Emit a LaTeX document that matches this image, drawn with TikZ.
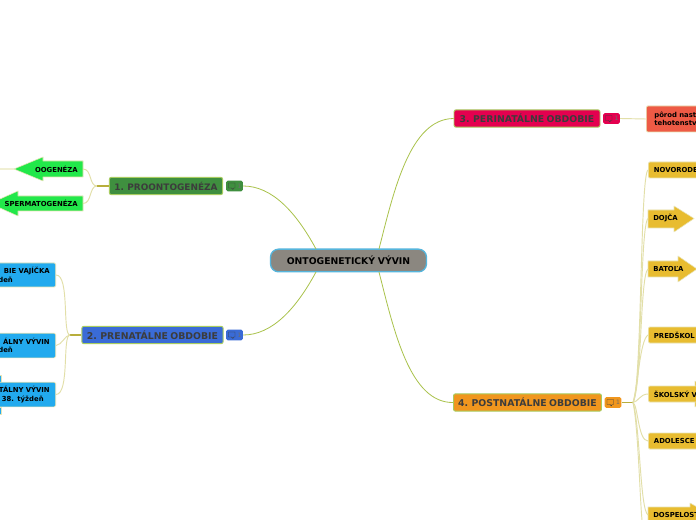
\documentclass[tikz,border=0pt]{standalone}
\usepackage{fontspec}
\setmainfont{DejaVu Sans}
\definecolor{olive}{HTML}{A9C24A}
\definecolor{pale}{HTML}{E2DFA8}
\definecolor{trunk}{HTML}{B8AE3C}
\definecolor{lvl}{HTML}{A8CC60}
\definecolor{ink}{HTML}{3C3C3C}
\definecolor{gr}{HTML}{3F8F3F}
\definecolor{bl}{HTML}{3A6BD6}
\definecolor{rd}{HTML}{E4004F}
\definecolor{or}{HTML}{F0961E}
\definecolor{lime}{HTML}{22E84A}
\definecolor{sky}{HTML}{22AAEE}
\definecolor{yel}{HTML}{E8BC30}
\definecolor{peach}{HTML}{EE5A45}
\definecolor{rim}{HTML}{E8E4B4}
\newcommand{\leaffont}{\bfseries\fontsize{5.15pt}{6.3pt}\selectfont}
\newcommand{\rootfont}{\bfseries\fontsize{6.95pt}{8pt}\selectfont\spaceskip 0.3em\relax}
\newcommand{\lvlfont}{\bfseries\fontsize{7pt}{8pt}\selectfont\spaceskip 0.25em\relax}
\newcommand{\lvlfontb}{\bfseries\fontsize{6.7pt}{8pt}\selectfont\spaceskip 0.25em\relax}
\tikzset{
  x=0.75pt,y=-0.75pt,
  mainline/.style={draw=olive,line width=0.6pt},
  subline/.style={draw=pale,line width=0.7pt},
  stem/.style={draw=trunk,line width=0.8pt},
  rootbox/.style={draw={rgb,255:red,85;green,181;blue,220},line width=1pt,fill={rgb,255:red,139;green,135;blue,128},rounded corners=6pt,minimum width=117pt,minimum height=17pt,inner sep=0pt,font=\rootfont,text=black},
  lvlbox/.style={draw=lvl,line width=0.7pt,rounded corners=1.5pt,minimum height=13pt,inner sep=0pt,font=\lvlfont,text=ink},
  badge/.style={rounded corners=1.2pt,minimum width=12.6pt,minimum height=8pt,inner sep=0pt},
  leafR/.style={draw=rim,line width=0.5pt,rounded corners=1pt,anchor=east,inner xsep=4.5pt,inner ysep=0pt,text width=90pt,align=right,font=\leaffont,text=black},
  leafL/.style={draw=rim,line width=0.5pt,rounded corners=1pt,anchor=west,inner xsep=4.2pt,inner ysep=0pt,text width=60pt,align=left,font=\leaffont,text=black},
  tag/.style={inner sep=0pt,font=\leaffont,text=black},
  arrowshape/.style={draw=rim,line width=0.4pt,line join=round}
}
\newcommand{\cbadge}[4]{%
  \node[badge,fill=#4] (#1) at (#2,#3) {};
  \draw[ink,line width=0.3pt,line join=round] (#2-6,#3-3) -- (#2+0.5,#3-3) -- (#2+0.5,#3+2) -- (#2-1,#3+2) -- (#2-1.5,#3+3.5) -- (#2-3,#3+2) -- (#2-6,#3+2) -- cycle;
  \node[inner sep=0pt,text=ink!75,font=\fontsize{4.5pt}{5pt}\selectfont] (#1t) at (#2+5,#3) {1};
}
\begin{document}
\begin{tikzpicture}
\useasboundingbox (0,0) rectangle (696,520);
\clip (0,0) rectangle (696,520);
\fill[white] (0,0) rectangle (696,520);

% arrow bodies
\filldraw[arrowshape,fill=lime] (83,161) -- (43,161) -- (43,157) -- (14,169) -- (43,181) -- (43,177) -- (83,177) -- cycle;
\filldraw[arrowshape,fill=lime] (83,196) -- (18,196) -- (18,191) -- (-10,203.5) -- (18,216) -- (18,211) -- (83,211) -- cycle;
\filldraw[arrowshape,fill=sky] (-20,382) -- (0.8,382) -- (0.8,375) -- (-20,375) -- cycle;
\filldraw[arrowshape,fill=sky] (-20,407) -- (0.8,407) -- (0.8,414) -- (-20,414) -- cycle;
\filldraw[arrowshape,fill=yel] (648,210) -- (674,210) -- (674,206) -- (694,218.5) -- (674,232) -- (674,228) -- (648,228) -- cycle;
\filldraw[arrowshape,fill=yel] (648,261) -- (678,261) -- (678,256) -- (697,269) -- (678,282) -- (678,277) -- (648,277) -- cycle;
\filldraw[arrowshape,fill=yel] (695,381) -- (710,394) -- (695,407) -- cycle;
\filldraw[arrowshape,fill=yel] (648,507) -- (690,507) -- (690,503) -- (720,520) -- (720,540) -- (648,540) -- cycle;

% nodes
\node[rootbox] (root) at (348.5,260.5) {ONTOGENETICKÝ VÝVIN};

\node[lvlbox,fill=gr,minimum width=85pt,font=\lvlfontb] (p1) at (166,186) {1. PROONTOGENÉZA};
\node[lvlbox,fill=bl,minimum width=106pt] (p2) at (152.5,335) {2. PRENATÁLNE OBDOBIE};
\node[lvlbox,fill=rd,minimum width=109.5pt] (p3) at (527,118.5) {3. PERINATÁLNE OBDOBIE};
\node[lvlbox,fill=or,minimum width=111pt] (p4) at (527.5,402.5) {4. POSTNATÁLNE OBDOBIE};

\cbadge{b1}{234.5}{186}{gr}
\cbadge{b2}{234.5}{335}{bl}
\cbadge{b3}{611.5}{118.5}{rd}
\cbadge{b4}{613}{402.5}{or}

\node[tag,anchor=east] (oo) at (78,169.5) {OOGENÉZA};
\node[tag,anchor=east] (sp) at (78,203.5) {SPERMATOGENÉZA};

\node[leafR,fill=sky,minimum height=18pt] (v1) at (56,275) {BIE VAJÍČKA\\deň\hspace{27.6pt}\mbox{}};
\node[leafR,fill=sky,minimum height=18.5pt] (v2) at (56,345.5) {ÁLNY VÝVIN\\deň\hspace{27.6pt}\mbox{}};
\node[leafR,fill=sky,minimum height=18.5pt] (v3) at (56,394.5) {TÁLNY VÝVIN\\- 38. týždeň\hspace{4.5pt}\mbox{}};

\node[leafL,fill=peach,minimum height=19.5pt,text=black,inner xsep=6pt] (pp) at (646,119) {pôrod nast\\tehotenstv};
\node[leafL,fill=yel,minimum height=12pt] (c1) at (648,170) {NOVORODE};
\node[tag,anchor=west] (c2) at (653,218.5) {DOJČA};
\node[tag,anchor=west] (c3) at (653,269) {BATOĽA};
\node[leafL,fill=yel,minimum height=12pt] (c4) at (648,335) {PREDŠKOL};
\node[leafL,fill=yel,minimum height=12pt] (c5) at (648,394) {ŠKOLSKÝ V};
\node[leafL,fill=yel,minimum height=12pt] (c6) at (648,441) {ADOLESCE};
\node[tag,anchor=west] (c7) at (653,515) {DOSPELOST};

\coordinate (j1) at (97,186);
\coordinate (j2) at (70,335);
\coordinate (j4) at (633,402.5);
\coordinate (edgeL) at (0,169);
\coordinate (c2w) at (648,218.5);
\coordinate (c3w) at (648,269);
\coordinate (c7w) at (648,515);
\coordinate (oow) at (83,169);
\coordinate (spw) at (83,203.5);
\coordinate (tipO) at (14,169);
\coordinate (rootTL) at (316,249);
\coordinate (rootBL) at (316,272);
\coordinate (rootTR) at (379,249);
\coordinate (rootBR) at (379,272);
\coordinate (low) at (642,520);

% main connectors
\draw[mainline] (rootTL) .. controls (296,212) and (272,186) .. (b1.east);
\draw[mainline] (rootBL) .. controls (296,309) and (272,335) .. (b2.east);
\draw[mainline] (rootTR) .. controls (394,190) and (410,119) .. (p3.west);
\draw[mainline] (rootBR) .. controls (394,331) and (410,403) .. (p4.west);

% left sub connectors
\draw[stem] (p1.west) -- (j1);
\draw[subline] (j1) .. controls (89,186) and (92,169) .. (oow);
\draw[subline] (j1) .. controls (89,186) and (92,203.5) .. (spw);
\draw[draw=pale!50,line width=0.9pt] (edgeL) -- (tipO);
\draw[stem] (p2.west) -- (j2);
\draw[subline] (j2) .. controls (62,335) and (70,275) .. (v1.east);
\draw[subline] (j2) .. controls (65,335) and (62,345) .. (v2.east);
\draw[subline] (j2) .. controls (62,335) and (70,394) .. (v3.east);

% right sub connectors
\draw[subline] (b3.east) -- (pp.west);
\draw[stem] (b4.east) -- (j4);
\draw[subline] (j4) .. controls (642,385) and (640,175) .. (c1.west);
\draw[subline] (j4) .. controls (642,385) and (640,225) .. (c2w);
\draw[subline] (j4) .. controls (642,385) and (640,275) .. (c3w);
\draw[subline] (j4) .. controls (638,385) and (640,340) .. (c4.west);
\draw[subline] (j4) .. controls (638,402) and (640,394) .. (c5.west);
\draw[subline] (j4) .. controls (638,405) and (638,441) .. (c6.west);
\draw[subline] (j4) .. controls (640,425) and (640,510) .. (c7w);
\draw[subline] (j4) .. controls (638,425) and (640,500) .. (low);
\end{tikzpicture}
\end{document}
